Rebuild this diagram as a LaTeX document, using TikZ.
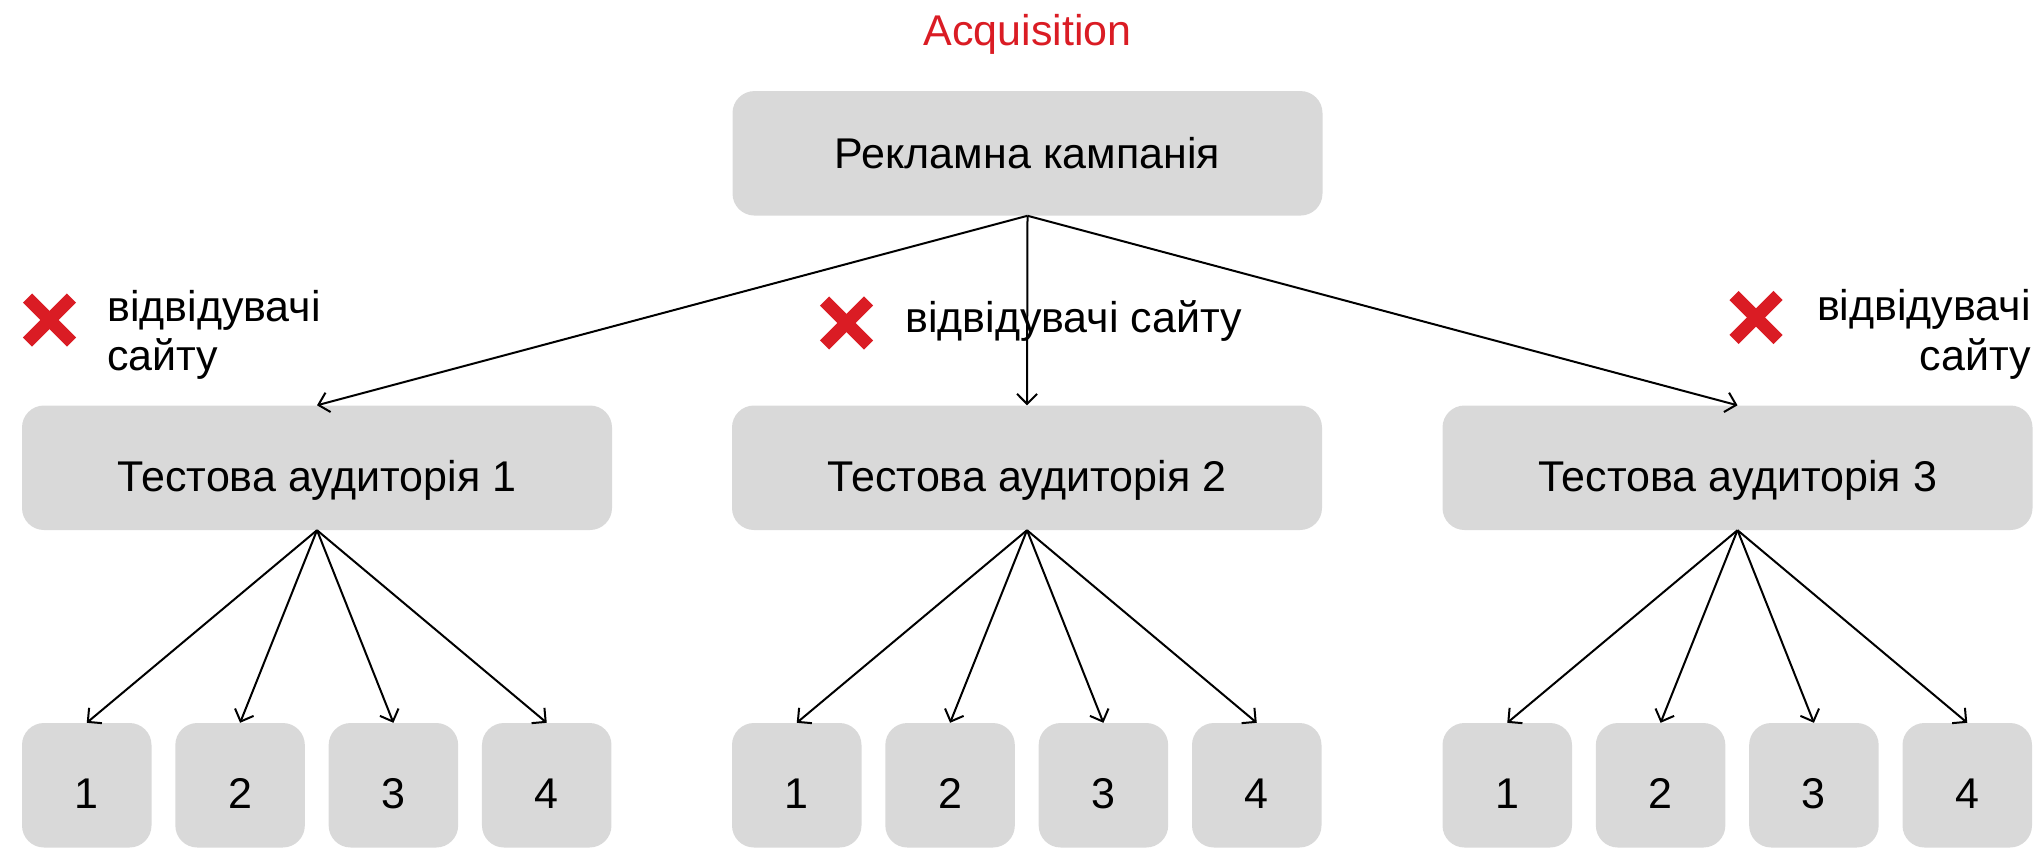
\documentclass[tikz,border=0pt]{standalone}
\usepackage{fontspec}
\setmainfont{Liberation Sans}
\usetikzlibrary{arrows.meta}
\definecolor{boxgray}{HTML}{D9D9D9}
\definecolor{xred}{HTML}{DA1C24}
\begin{document}
\begin{tikzpicture}[x=1pt,y=-1pt,
  box/.style={fill=boxgray, rounded corners=22pt, inner sep=0pt,
    font=\fontsize{43}{49}\selectfont, text height=47pt, text depth=0pt},
  wide/.style={box, minimum width=590pt, minimum height=124.5pt},
  small/.style={box, minimum width=129.5pt, minimum height=124.5pt},
  conn/.style={draw=black, line width=2pt, -{Straight Barb[length=10pt,width=20pt]}},
  cross/.style={draw=xred, line width=13pt},
  lbl/.style={font=\fontsize{43}{49}\selectfont, inner sep=0pt}
]
\useasboundingbox (0,0) rectangle (2036,847);

% title
\node[lbl, text=xred, anchor=base] (title) at (1027.5,45.7) {Acquisition};

% top box
\node[wide, text height=30pt] (top) at (1027.5,153.3) {Рекламна кампанія};

% middle boxes
\node[wide] (m1) at (317,467.75) {Тестова аудиторія 1};
\node[wide] (m2) at (1027,467.75) {Тестова аудиторія 2};
\node[wide] (m3) at (1737.5,467.75) {Тестова аудиторія 3};

% bottom boxes
\foreach \g/\off in {1/0,2/710,3/1420.5}{
  \foreach \k in {1,2,3,4}{
    \node[small] (b\g\k) at ({86.75+153.33*(\k-1)+\off},785.25) {\k};
  }
}

% connectors
\draw[conn] (top.south) -- (m1.north);
\draw[conn] (top.south) -- (m2.north);
\draw[conn] (top.south) -- (m3.north);
\foreach \g in {1,2,3}{
  \foreach \k in {1,2,3,4}{
    \draw[conn] (m\g.south) -- (b\g\k.north);
  }
}

% crosses
\coordinate (x1) at (49.5,320);
\coordinate (x2) at (846.5,323);
\coordinate (x3) at (1756,317.5);
\foreach \c in {x1,x2,x3}{
  \draw[cross] ([shift={(-22,-22)}]\c) -- ([shift={(22,22)}]\c);
  \draw[cross] ([shift={(-22,22)}]\c) -- ([shift={(22,-22)}]\c);
}

% labels
\node[lbl, anchor=base west] (v1a) at (107,321) {відвідувачі};
\node[lbl, anchor=base west] (v1b) at (107,370) {сайту};
\node[lbl, anchor=base west] (v2) at (905,332) {відвідувачі сайту};
\node[lbl, anchor=base east] (v3a) at (2031,320) {відвідувачі};
\node[lbl, anchor=base east] (v3b) at (2031,370) {сайту};
\end{tikzpicture}
\end{document}
